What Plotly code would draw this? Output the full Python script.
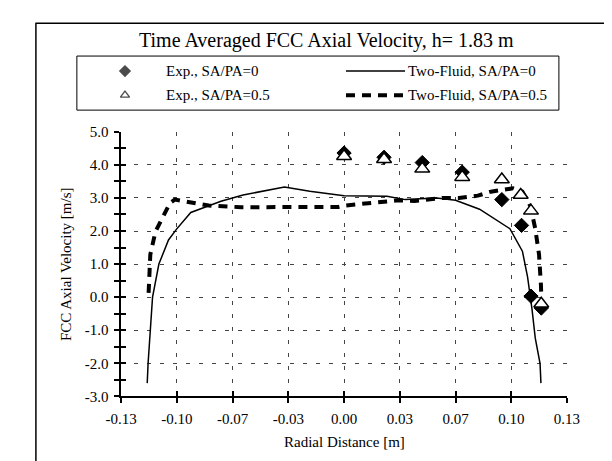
import plotly.graph_objects as go

# ---------------- data ----------------
exp0_x = [0.0, 0.0233, 0.0456, 0.0689, 0.092, 0.1035, 0.109, 0.115]
exp0_v = [4.36, 4.23, 4.07, 3.78, 2.95, 2.17, 0.03, -0.33]

exp05_x = [0.0, 0.0233, 0.0456, 0.0689, 0.092, 0.103, 0.109, 0.115]
exp05_v = [4.26, 4.17, 3.88, 3.63, 3.56, 3.09, 2.61, -0.2]

tf0_x = [-0.1148, -0.1143, -0.113, -0.1117, -0.108, -0.1024, -0.0978, -0.0894,
         -0.0718, -0.0589, -0.0348, -0.02, 0.0, 0.025, 0.0356, 0.054, 0.065,
         0.079, 0.0967, 0.104, 0.107, 0.1096, 0.1115, 0.1143, 0.1148]
tf0_v = [-2.6, -2.0, -1.0, 0.0, 1.0, 1.73, 2.05, 2.56, 2.9, 3.09, 3.33, 3.2,
         3.07, 3.05, 2.95, 3.0, 2.93, 2.66, 2.07, 1.39, 0.61, -0.36, -1.24,
         -2.01, -2.6]

tf05_x = [-0.114, -0.1137, -0.113, -0.110, -0.106, -0.1015, -0.0987, -0.0904,
          -0.079, -0.06, -0.02, -0.0033, 0.0004, 0.0115, 0.0206, 0.0318, 0.0411,
          0.0504, 0.0578, 0.067, 0.078, 0.0856, 0.0985, 0.104, 0.1087, 0.1115,
          0.1137, 0.1148, 0.115]
tf05_v = [0.13, 0.61, 1.29, 1.98, 2.41, 2.85, 2.95, 2.87, 2.77, 2.72, 2.72,
          2.73, 2.77, 2.82, 2.85, 2.93, 2.91, 2.97, 3.0, 3.0, 3.07, 3.19, 3.29,
          3.19, 2.75, 2.07, 1.29, 0.37, 0.05]

x_tickvals = [-0.13, -0.0975, -0.065, -0.0325, 0.0, 0.0325, 0.065, 0.0975, 0.13]
x_ticktext = ["-0.13", "-0.10", "-0.07", "-0.03", "0.00", "0.03", "0.07", "0.10", "0.13"]
y_tickvals = [-3, -2, -1, 0, 1, 2, 3, 4, 5]
y_ticktext = ["-3.0", "-2.0", "-1.0", "0.0", "1.0", "2.0", "3.0", "4.0", "5.0"]

title_text = "Time Averaged FCC Axial Velocity, h= 1.83 m"
xlabel = "Radial Distance [m]"
ylabel = "FCC Axial Velocity [m/s]"
names = ["Exp., SA/PA=0", "Exp., SA/PA=0.5", "Two-Fluid, SA/PA=0", "Two-Fluid, SA/PA=0.5"]

# ---------------- layout helpers ----------------
W, H = 612, 461
FONT = "Liberation Serif, Times New Roman, serif"


def px(x):
    return x / W


def py(y):
    return 1 - y / H


fig = go.Figure()

fig.add_trace(go.Scatter(x=tf0_x, y=tf0_v, mode="lines", name=names[2],
                         line=dict(color="black", width=1.5), showlegend=False))
fig.add_trace(go.Scatter(x=tf05_x, y=tf05_v, mode="lines", name=names[3],
                         line=dict(color="black", width=4, dash="9px,7px"),
                         showlegend=False))
fig.add_trace(go.Scatter(x=exp0_x, y=exp0_v, mode="markers", name=names[0],
                         marker=dict(symbol="diamond", size=11, color="black",
                                     line=dict(color="black", width=1)),
                         showlegend=False))
fig.add_trace(go.Scatter(x=exp05_x, y=exp05_v, mode="markers", name=names[1],
                         marker=dict(symbol="triangle-up", size=13, color="white",
                                     line=dict(color="black", width=1.5)),
                         showlegend=False))

# overlay axes for the inner half of the crossing tick marks
fig.add_trace(go.Scatter(x=[None], y=[None], xaxis="x2", yaxis="y2",
                         showlegend=False, hoverinfo="skip"))

# legend symbol axes spanning the figure
fig.add_trace(go.Scatter(x=[106, 106], y=[57, 82], xaxis="x3", yaxis="y3",
                         mode="markers", showlegend=False, hoverinfo="skip",
                         marker=dict(symbol=["diamond", "triangle-up"], size=[8, 8],
                                     color=["black", "white"],
                                     line=dict(color="black", width=1.3))))

dom_x = [px(102), px(570)]
dom_y = [py(394), py(120)]

fig.update_layout(
    width=W, height=H,
    margin=dict(l=0, r=0, t=0, b=0),
    paper_bgcolor="white",
    plot_bgcolor="rgba(0,0,0,0)",
    font=dict(family=FONT, size=15, color="black"),
    xaxis=dict(domain=dom_x, range=[-0.13, 0.13], anchor="y",
               tickvals=x_tickvals, ticktext=x_ticktext,
               ticks="outside", ticklen=5, tickwidth=1.5, tickcolor="black",
               showline=True, linecolor="black", linewidth=1.5,
               showgrid=True, gridcolor="#444", gridwidth=1, griddash="4px,9px",
               zeroline=False, ticklabelstandoff=3,
               tickfont=dict(family=FONT, size=15)),
    yaxis=dict(domain=dom_y, range=[-3, 5], anchor="x",
               tickvals=y_tickvals, ticktext=y_ticktext,
               ticks="outside", ticklen=5, tickwidth=1.5, tickcolor="black",
               minor=dict(dtick=0.5, tick0=0, ticks="outside", ticklen=5,
                          tickwidth=1.5, tickcolor="black", showgrid=False),
               showline=True, linecolor="black", linewidth=1.5,
               showgrid=True, gridcolor="#444", gridwidth=1, griddash="4px,9px",
               zeroline=False, ticklabelstandoff=3,
               tickfont=dict(family=FONT, size=15)),
    xaxis2=dict(overlaying="x", anchor="y", domain=dom_x, range=[-0.13, 0.13],
                tickvals=x_tickvals, ticks="inside", ticklen=5, tickwidth=1.5,
                tickcolor="black", showticklabels=False, showgrid=False,
                showline=False, zeroline=False),
    yaxis2=dict(overlaying="y", anchor="x", domain=dom_y, range=[-3, 5],
                tickvals=y_tickvals, ticks="inside", ticklen=5,
                tickwidth=1.5, tickcolor="black",
                minor=dict(dtick=0.5, tick0=0, ticks="inside", ticklen=5,
                           tickwidth=1.5, tickcolor="black", showgrid=False),
                showticklabels=False, showgrid=False, showline=False,
                zeroline=False),
    xaxis3=dict(domain=[0, 1], range=[0, W], anchor="y3", visible=False,
                fixedrange=True),
    yaxis3=dict(domain=[0, 1], range=[H, 0], anchor="x3", visible=False,
                fixedrange=True),
    showlegend=False,
)

shapes = [
    # outer chart frame (left and top edges visible)
    dict(type="line", xref="paper", yref="paper", x0=px(12.5), x1=px(12.5),
         y0=py(H), y1=py(7.5), line=dict(color="black", width=1.5)),
    dict(type="line", xref="paper", yref="paper", x0=px(12), x1=px(W),
         y0=py(7.5), y1=py(7.5), line=dict(color="black", width=1.5)),
    # legend box
    dict(type="rect", xref="paper", yref="paper", x0=px(55.5), x1=px(561.5),
         y0=py(97.5), y1=py(41.5), line=dict(color="black", width=1)),
    # legend line samples
    dict(type="line", xref="paper", yref="paper", x0=px(338), x1=px(400),
         y0=py(57), y1=py(57), line=dict(color="black", width=1.5)),
    dict(type="line", xref="paper", yref="paper", x0=px(338), x1=px(400),
         y0=py(82), y1=py(82), line=dict(color="black", width=4, dash="9px,7px")),
]
fig.update_layout(shapes=shapes)

annotations = [
    dict(text=title_text, x=px(318), y=py(25), xref="paper", yref="paper",
         showarrow=False, xanchor="center", yanchor="middle",
         font=dict(size=20)),
    dict(text=xlabel, x=px(336), y=py(441), xref="paper", yref="paper",
         showarrow=False, xanchor="center", yanchor="middle", font=dict(size=15)),
    dict(text=ylabel, x=px(44), y=py(257), xref="paper", yref="paper",
         showarrow=False, xanchor="center", yanchor="middle", textangle=-90,
         font=dict(size=15)),
    dict(text=names[0], x=px(147), y=py(57), xref="paper", yref="paper",
         showarrow=False, xanchor="left", yanchor="middle", font=dict(size=15)),
    dict(text=names[1], x=px(147), y=py(82), xref="paper", yref="paper",
         showarrow=False, xanchor="left", yanchor="middle", font=dict(size=15)),
    dict(text=names[2], x=px(401), y=py(57), xref="paper", yref="paper",
         showarrow=False, xanchor="left", yanchor="middle", font=dict(size=15)),
    dict(text=names[3], x=px(401), y=py(82), xref="paper", yref="paper",
         showarrow=False, xanchor="left", yanchor="middle", font=dict(size=15)),
]
fig.update_layout(annotations=annotations)

fig.write_html("out.html")
